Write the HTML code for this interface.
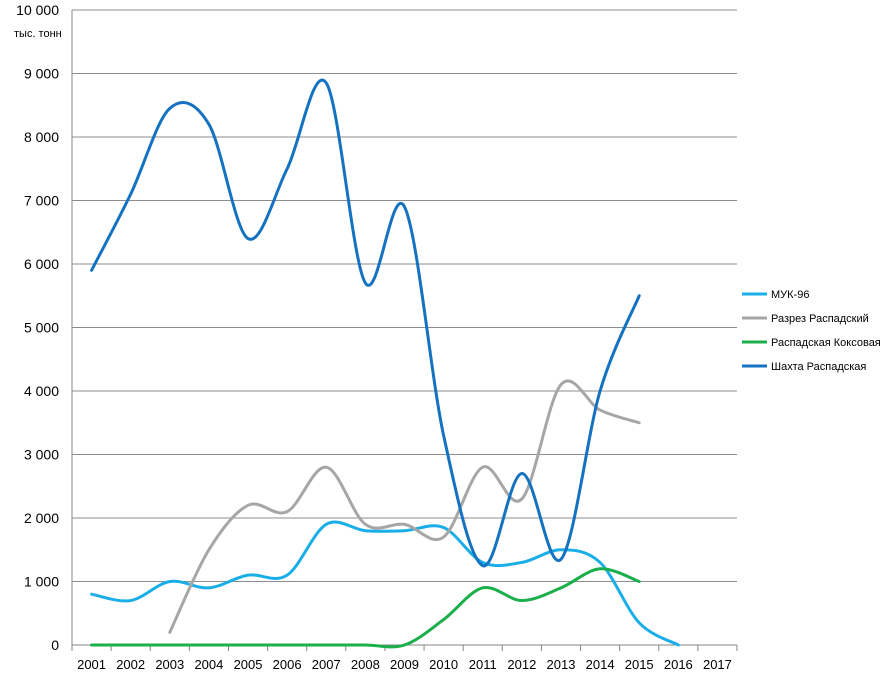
<!DOCTYPE html>
<html><head><meta charset="utf-8"><style>
body{margin:0;background:#fff;font-family:"Liberation Sans",sans-serif}
svg text{font-family:"Liberation Sans",sans-serif;fill:#000}
</style></head><body>
<svg id="c" width="887" height="674"></svg>
<script>
const years=["2001","2002","2003","2004","2005","2006","2007","2008","2009","2010","2011","2012","2013","2014","2015","2016","2017"];
const yTicks=[0,1000,2000,3000,4000,5000,6000,7000,8000,9000,10000];
const muk96=[800,700,1000,900,1100,1100,1900,1800,1800,1850,1300,1300,1500,1300,350,0,null];
const razrez=[null,null,200,1500,2200,2100,2800,1900,1900,1700,2800,2300,4100,3700,3500,null,null];
const koksovaya=[0,0,0,0,0,0,0,0,0,400,900,700,900,1200,1000,null,null];
const shakhta=[5900,7100,8450,8200,6400,7500,8850,5700,6900,3300,1250,2700,1350,4000,5500,null,null];
const seriesNames=["МУК-96","Разрез Распадский","Распадская Коксовая","Шахта Распадская"];
const seriesColors=["#1aaee8","#a6a6a6","#1aaf4b","#1572c0"];
const svg=document.getElementById('c');const NS="http://www.w3.org/2000/svg";
const L=72,R=737,T=10,B=645,cw=(R-L)/years.length;
const x=i=>L+cw*(i+0.5),y=v=>B-(v/10000)*(B-T);
function mk(t,a,p){const e=document.createElementNS(NS,t);for(const k in a)e.setAttribute(k,a[k]);(p||svg).appendChild(e);return e;}
yTicks.forEach(v=>{const g=mk('line',{x1:L,x2:R,y1:y(v),y2:y(v),stroke:v==0?'#868686':'#8c8c8c','stroke-width':1});


const t=mk('text',{x:L-13,y:y(v)+5,'text-anchor':'end','font-size':14});t.textContent=v.toLocaleString('ru-RU').replace(/\s/g,' ');

});
const ax=mk('line',{x1:L,x2:L,y1:T,y2:B+6,stroke:'#868686'});


const ut=mk('text',{x:14,y:37,'font-size':11});ut.textContent='тыс. тонн';


years.forEach((yr,i)=>{const tk=mk('line',{x1:L+cw*(i+1),x2:L+cw*(i+1),y1:B,y2:B+6,stroke:'#868686'});


const t=mk('text',{x:x(i),y:B+24,'text-anchor':'middle','font-size':13});t.textContent=yr;

});
function path(pts){let d=`M${pts[0][0]},${pts[0][1]}`;const s=1/6;
for(let i=0;i<pts.length-1;i++){const p0=pts[i-1]||pts[i],p1=pts[i],p2=pts[i+1],p3=pts[i+2]||p2;
d+=` C${p1[0]+(p2[0]-p0[0])*s},${p1[1]+(p2[1]-p0[1])*s} ${p2[0]-(p3[0]-p1[0])*s},${p2[1]-(p3[1]-p1[1])*s} ${p2[0]},${p2[1]}`;}return d;}
[muk96,razrez,koksovaya,shakhta].forEach((arr,si)=>{const pts=[];arr.forEach((v,i)=>{if(v!==null)pts.push([x(i),y(v)]);});
const p=mk('path',{d:path(pts),fill:'none',stroke:seriesColors[si],'stroke-width':3,'stroke-linecap':'round'});


const ly=294+si*24;
const ll=mk('line',{x1:742,x2:767,y1:ly,y2:ly,stroke:seriesColors[si],'stroke-width':3});


const lt=mk('text',{x:771,y:ly+4,'font-size':11});lt.textContent=seriesNames[si];

});
</script></body></html>
